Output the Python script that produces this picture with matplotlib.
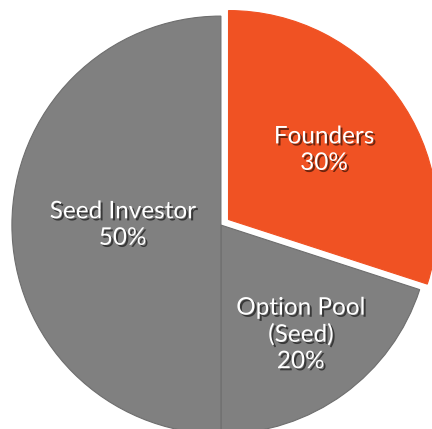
import numpy as np
import matplotlib.pyplot as plt
import matplotlib.patheffects as pe

# cap table split
labels = ['Founders', 'Option Pool\n(Seed)', 'Seed Investor']
shares = [30, 20, 50]
colors = ['#F05223', '#808080', '#808080']
explode = [0.045, 0, 0]
label_r = [0.565, 0.65, 0.47]  # how far out each label sits

fig = plt.figure(figsize=(4.32, 4.29), dpi=100)
ax = fig.add_axes([0, 0, 1, 1])

wedges, _ = ax.pie(shares, colors=colors, explode=explode, startangle=90,
                   counterclock=False, radius=1.0,
                   wedgeprops=dict(edgecolor='#6e6e6e', linewidth=0.8))
wedges[0].set_edgecolor('#F05223')

shadow = [pe.SimplePatchShadow(offset=(1.5, -1.5), shadow_rgbFace='black', alpha=0.55),
          pe.Normal()]

for w, lab, s, r, ex in zip(wedges, labels, shares, label_r, explode):
    ang = np.deg2rad((w.theta1 + w.theta2) / 2)
    x = (r + ex) * np.cos(ang)
    y = (r + ex) * np.sin(ang)
    ax.text(x, y, f'{lab}\n{s}%', ha='center', va='center', color='white',
            fontsize=17.5, family='Lato', linespacing=1.32, path_effects=shadow)

ax.set_xlim(-1.057, 1.010)
ax.set_ylim(-0.976, 1.077)
ax.set_aspect('auto')
ax.axis('off')

fig.savefig('out.png', dpi=100)
